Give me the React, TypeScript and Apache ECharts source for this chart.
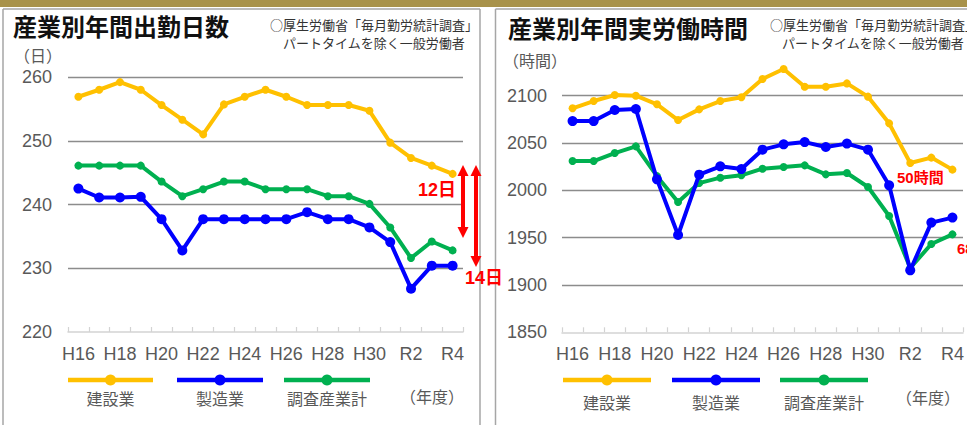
import React, { useEffect, useRef } from 'react';
import * as echarts from 'echarts';

const categories = ['H16', 'H17', 'H18', 'H19', 'H20', 'H21', 'H22', 'H23', 'H24', 'H25', 'H26', 'H27', 'H28', 'H29', 'H30', 'R1', 'R2', 'R3', 'R4'];

const seriesNames = ['建設業', '製造業', '調査産業計'];

// 年間出勤日数（日）
const daysConstruction = [256.9, 258.0, 259.2, 258.0, 255.6, 253.3, 251.0, 255.7, 256.9, 258.0, 256.9, 255.6, 255.6, 255.6, 254.7, 249.7, 247.3, 246.1, 244.8];
const daysManufacturing = [242.5, 241.1, 241.1, 241.2, 237.7, 232.8, 237.7, 237.7, 237.7, 237.7, 237.7, 238.8, 237.7, 237.7, 236.4, 234.1, 226.8, 230.4, 230.4];
const daysAll = [246.1, 246.1, 246.1, 246.1, 243.6, 241.3, 242.4, 243.6, 243.6, 242.4, 242.4, 242.4, 241.3, 241.3, 240.1, 236.4, 231.6, 234.2, 232.8];

// 年間実労働時間（時間）
const hoursConstruction = [2086.7, 2094.4, 2100.7, 2100.0, 2090.9, 2074.3, 2085.6, 2094.4, 2098.3, 2117.7, 2128.2, 2109.5, 2109.5, 2113.0, 2099.0, 2070.8, 2028.9, 2034.6, 2021.9];
const hoursManufacturing = [2073.2, 2073.2, 2084.9, 2086.0, 2011.6, 1952.8, 2016.6, 2025.4, 2022.5, 2043.0, 2048.6, 2051.0, 2045.8, 2049.4, 2043.0, 2005.3, 1915.5, 1965.9, 1971.2];
const hoursAll = [2031.0, 2031.0, 2039.4, 2046.5, 2015.0, 1987.7, 2007.7, 2013.4, 2015.9, 2022.9, 2024.6, 2026.4, 2016.9, 2018.3, 2003.5, 1972.9, 1918.0, 1943.3, 1953.5];

const daysTicks = { min: 220, max: 260, interval: 10 };
const hoursTicks = { min: 1850, max: 2150, interval: 50 };

const colors = ['#FFC000', '#0000FF', '#00B050'];
const FONT = '"Liberation Sans", Arial, "Noto Sans CJK JP", sans-serif';
const JFONT = '"Noto Sans CJK JP", "Liberation Sans", sans-serif';
const GRAY = '#595959';

function text(x: number, y: number, t: string, opts: any = {}) {
  return {
    type: 'text',
    x,
    y,
    z: 20,
    style: {
      text: t,
      fill: opts.fill || GRAY,
      fontSize: opts.fontSize || 16,
      fontWeight: opts.fontWeight || 'normal',
      fontFamily: opts.fontFamily || JFONT,
      textAlign: opts.align || 'left',
      textVerticalAlign: 'middle',
    },
  };
}

function vline(x: number, y1: number, y2: number) {
  return { type: 'line', z: 1, shape: { x1: x, y1, x2: x, y2 }, style: { stroke: '#a6a6a6', lineWidth: 1.5 } };
}
function hline(x1: number, x2: number, y: number) {
  return { type: 'line', z: 1, shape: { x1, y1: y, x2, y2: y }, style: { stroke: '#a6a6a6', lineWidth: 1.5 } };
}

function legendItem(x1: number, x2: number, y: number, color: string, label: string, labelY: number) {
  return [
    { type: 'line', z: 20, shape: { x1, y1: y, x2, y2: y }, style: { stroke: color, lineWidth: 4.5 } },
    { type: 'circle', z: 21, shape: { cx: (x1 + x2) / 2, cy: y, r: 5.5 }, style: { fill: color } },
    text((x1 + x2) / 2, labelY, label, { align: 'center', fontSize: 16 }),
  ];
}

function arrow(x: number, yTop: number, yBot: number) {
  const hw = 5.5;
  const hh = 11;
  return [
    { type: 'line', z: 25, shape: { x1: x, y1: yTop + hh - 1, x2: x, y2: yBot - hh + 1 }, style: { stroke: '#FF0000', lineWidth: 4 } },
    { type: 'polygon', z: 25, shape: { points: [[x, yTop], [x - hw, yTop + hh], [x + hw, yTop + hh]] }, style: { fill: '#FF0000' } },
    { type: 'polygon', z: 25, shape: { points: [[x, yBot], [x - hw, yBot - hh], [x + hw, yBot - hh]] }, style: { fill: '#FF0000' } },
  ];
}

function xAxisCfg(gridIndex: number) {
  return {
    gridIndex,
    type: 'category',
    data: categories,
    boundaryGap: true,
    axisLine: { show: true, lineStyle: { color: '#d3d3d3', width: 1.5 } },
    axisTick: { show: true, inside: true, length: 5, interval: 0, lineStyle: { color: '#d3d3d3', width: 1.2 } },
    axisLabel: { interval: 1, color: GRAY, fontSize: 18, margin: 13, fontFamily: FONT },
    splitLine: { show: false },
  };
}

function lineSeries(name: string, data: number[], color: string, axis: number, size: number, z: number) {
  return {
    name,
    type: 'line',
    xAxisIndex: axis,
    yAxisIndex: axis,
    data,
    symbol: 'circle',
    symbolSize: size,
    showSymbol: true,
    lineStyle: { color, width: 4 },
    itemStyle: { color },
    z,
    emphasis: { disabled: true },
  };
}

export default function App() {
  const ref = useRef<HTMLDivElement>(null);

  useEffect(() => {
    const chart = echarts.init(ref.current!, null, { renderer: 'svg' });

    const graphics: any[] = [
      // frame
      { type: 'rect', z: 1, shape: { x: 0, y: 0, width: 967, height: 7 }, style: { fill: '#A8924A' } },
      hline(3, 480, 9),
      vline(3, 9, 425),
      vline(480, 9, 425),
      hline(495.5, 967, 9),
      vline(495.5, 9, 425),
      // titles
      text(13, 25, '産業別年間出勤日数', { fill: '#111', fontSize: 24, fontWeight: 'bold' }),
      text(508, 27, '産業別年間実労働時間', { fill: '#111', fontSize: 24, fontWeight: 'bold' }),
      // source notes
      text(270, 24, '○厚生労働省「毎月勤労統計調査」', { fill: '#333', fontSize: 13 }),
      text(283, 42, 'パートタイムを除く一般労働者', { fill: '#333', fontSize: 13 }),
      text(770, 24, '○厚生労働省「毎月勤労統計調査」', { fill: '#333', fontSize: 13 }),
      text(782, 42, 'パートタイムを除く一般労働者', { fill: '#333', fontSize: 13 }),
      // unit labels
      text(14, 55, '（日）', { fontSize: 16 }),
      text(503, 60, '（時間）', { fontSize: 16 }),
      text(400, 396, '（年度）', { fontSize: 16 }),
      text(896, 397, '（年度）', { fontSize: 16 }),
      // legends
      ...legendItem(68, 153, 380, colors[0], seriesNames[0], 398),
      ...legendItem(177, 263, 380, colors[1], seriesNames[1], 398),
      ...legendItem(284, 370, 380, colors[2], seriesNames[2], 398),
      ...legendItem(563, 651, 380, colors[0], seriesNames[0], 402),
      ...legendItem(672, 760, 380, colors[1], seriesNames[1], 402),
      ...legendItem(780, 868, 380, colors[2], seriesNames[2], 402),
      // annotations
      ...arrow(463, 165, 238),
      ...arrow(476, 165, 267),
      text(418, 190, '12日', { fill: '#FF0000', fontSize: 18, fontWeight: 'bold', fontFamily: FONT }),
      text(465, 278, '14日', { fill: '#FF0000', fontSize: 18, fontWeight: 'bold', fontFamily: FONT }),
      text(897, 177, '50時間', { fill: '#FF0000', fontSize: 15, fontWeight: 'bold', fontFamily: FONT }),
      text(957, 248, '68時間', { fill: '#FF0000', fontSize: 15, fontWeight: 'bold', fontFamily: FONT }),
    ];

    const option: any = {
      animation: false,
      backgroundColor: '#ffffff',
      textStyle: { fontFamily: FONT },
      grid: [
        { left: 68, top: 77, width: 395, height: 255, containLabel: false },
        { left: 562, top: 48.4, width: 401, height: 283.9, containLabel: false },
      ],
      xAxis: [xAxisCfg(0), xAxisCfg(1)],
      yAxis: [
        {
          gridIndex: 0,
          type: 'value',
          min: daysTicks.min,
          max: daysTicks.max,
          interval: daysTicks.interval,
          axisLine: { show: false },
          axisTick: { show: false },
          splitLine: { show: true, showMinLine: false, lineStyle: { color: '#8c8c8c', width: 1.3 } },
          axisLabel: { color: GRAY, fontSize: 18, margin: 16, fontFamily: FONT, formatter: (v: number) => String(v) },
        },
        {
          gridIndex: 1,
          type: 'value',
          min: hoursTicks.min,
          max: hoursTicks.max,
          interval: hoursTicks.interval,
          axisLine: { show: false },
          axisTick: { show: false },
          splitLine: { show: true, showMinLine: false, showMaxLine: false, lineStyle: { color: '#8c8c8c', width: 1.3 } },
          axisLabel: { color: GRAY, fontSize: 18, margin: 15, fontFamily: FONT, showMaxLabel: false, formatter: (v: number) => String(v) },
        },
      ],
      series: [
        lineSeries(seriesNames[2], daysAll, colors[2], 0, 8, 3),
        lineSeries(seriesNames[0], daysConstruction, colors[0], 0, 8, 4),
        lineSeries(seriesNames[1], daysManufacturing, colors[1], 0, 10, 5),
        lineSeries(seriesNames[2], hoursAll, colors[2], 1, 8, 3),
        lineSeries(seriesNames[0], hoursConstruction, colors[0], 1, 8, 4),
        lineSeries(seriesNames[1], hoursManufacturing, colors[1], 1, 10, 5),
      ],
      graphic: graphics,
    };

    chart.setOption(option);
    return () => chart.dispose();
  }, []);

  return (
    <div
      ref={ref}
      style={{ position: 'absolute', left: 0, top: 0, width: 967, height: 425, background: '#fff' }}
    />
  );
}
